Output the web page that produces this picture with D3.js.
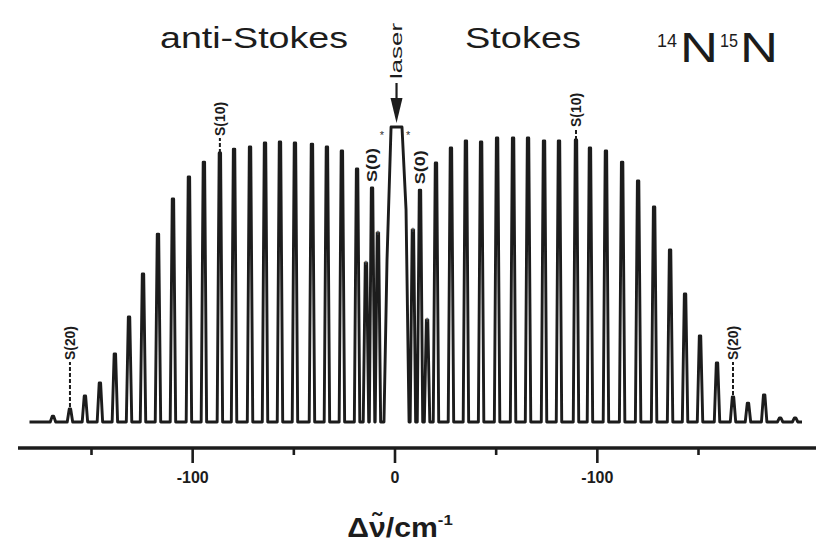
<!DOCTYPE html>
<html><head><meta charset="utf-8">
<script src="https://cdn.jsdelivr.net/npm/d3@7"></script>
<style>body{margin:0;background:#fff}svg{display:block}</style>
</head><body><svg id="c" width="816" height="543"></svg>
<script>
// ---- data (Raman shift in cm^-1, relative intensity with laser = 100) ----
const antiStokesShift = [-168.8,-160.4,-153.0,-145.6,-138.2,-131.2,-124.3,-116.9,-109.5,-101.6,-94.2,-86.3,-79.3,-71.4,-64.0,-56.6,-49.2,-40.8,-33.4,-26.0,-18.5,-11.1];
const antiStokesIntensity = [2.0,4.4,8.8,13.2,23.1,35.6,50.2,63.7,75.6,83.1,88.1,91.2,92.5,93.2,94.6,94.9,94.6,94.2,93.2,91.9,85.8,79.3];
const stokesShift = [12.6,20.5,27.9,35.3,42.8,50.7,58.6,66.0,73.9,81.3,89.7,96.6,104.5,112.5,120.4,128.3,136.2,143.6,151.0,159.4,167.3,174.7,182.7,190.6,198.0];
const stokesIntensity = [78.6,87.8,92.9,95.3,94.9,96.3,96.3,96.3,95.3,95.3,95.6,92.9,91.9,88.1,81.7,72.9,58.3,43.4,29.2,20.0,8.5,6.4,9.2,1.4,1.4];
const impurityShift = [-14.1,-8.2,9.1,16.1];
const impurityIntensity = [53.9,64.1,65.1,34.6];
const laserShift = [-5.2,-3.7,-1.7,3.7,5.7,7.2];
const laserIntensity = [0,55,100,100,72,0];
const branchLabels = ["S(20)","S(10)","S(0)","S(0)","S(10)","S(20)"];
const branchShift = [-160.4,-86.3,-11.1,12.6,89.7,167.3];
const branchIntensity = [4.4,91.2,79.3,78.6,95.6,8.5];
const starShift = [-6.2,6.7];
const tickValues = [-150,-100,-50,0,50,100,150];
const tickLabels = ["","-100","","0","","-100",""];
const spectrumRange = [-180.4,201.4];

// ---- layout ----
const svg = d3.select("#c");
const x = d3.scaleLinear().domain([-150,150]).range([91,698]);
const y = d3.scaleLinear().domain([0,100]).range([422,127]);
const axisY = 448;
const ink = "#1c1c1c";
const narrow = "'Liberation Sans Narrow','Liberation Sans',Arial,sans-serif";
const sans = "'Liberation Sans',Arial,Helvetica,sans-serif";

// spectrum path
const peaks = [];
antiStokesShift.forEach((s,i)=>peaks.push([s,antiStokesIntensity[i]]));
stokesShift.forEach((s,i)=>peaks.push([s,stokesIntensity[i]]));
impurityShift.forEach((s,i)=>peaks.push([s,impurityIntensity[i]]));
peaks.sort((a,b)=>a[0]-b[0]);
const hw = 1.35, tw = 0.35;
let pts = [[spectrumRange[0],0]];
let laserDone = false;
peaks.forEach(p=>{
  if(!laserDone && p[0] > laserShift[0]){
    laserShift.forEach((s,i)=>pts.push([s,laserIntensity[i]]));
    laserDone = true;
  }
  pts.push([p[0]-hw,0],[p[0]-tw,p[1]],[p[0]+tw,p[1]],[p[0]+hw,0]);
});
pts.push([spectrumRange[1],0]);
const line = d3.line().x(d=>x(d[0])).y(d=>y(d[1]));
svg.append("path").attr("d",line(pts)).attr("fill","none")
  .attr("stroke",ink).attr("stroke-width",2.9).attr("stroke-linejoin","round");

// axis
const axis = d3.axisBottom(x).tickValues(tickValues)
  .tickFormat((d,i)=>tickLabels[i]).tickSizeOuter(0).tickSize(15);
const ag = svg.append("g").attr("transform",`translate(0,${axisY})`).call(axis);
ag.select(".domain").remove();
ag.append("line").attr("x1",18).attr("x2",816).attr("y1",0).attr("y2",0)
  .attr("stroke",ink).attr("stroke-width",3.4);
ag.selectAll(".tick line").attr("stroke",ink).attr("stroke-width",2.6)
  .attr("y2",(d,i)=>tickLabels[i]? 15 : 7);
ag.selectAll(".tick text").attr("fill",ink).attr("y",24)
  .style("font-family",narrow).style("font-weight","bold").style("font-size","16px");

// axis title
const tg = svg.append("g").attr("transform","translate(400,537) scale(1.12,1)");
const t = tg.append("text").attr("text-anchor","middle")
  .style("font-family",narrow).style("font-weight","bold").style("font-size","27px").attr("fill",ink);
t.append("tspan").text("Δν̃/cm");
t.append("tspan").attr("dy",-12).style("font-size","15px").text("-1");

// branch labels
const labelGap = [2,15,4,4,11,2];
const labelLine = [45,0,0,0,0,33];
branchLabels.forEach((lab,i)=>{
  const px = x(branchShift[i]), top = y(branchIntensity[i]) - labelGap[i];
  const ll = labelLine[i];
  if(ll>0){
    svg.append("line").attr("x1",px).attr("x2",px).attr("y1",top).attr("y2",top-ll)
      .attr("stroke",ink).attr("stroke-width",2).attr("stroke-dasharray","4,2");
  }
  if(labelGap[i]>5){
    svg.append("line").attr("x1",px).attr("x2",px).attr("y1",top+labelGap[i]).attr("y2",top)
      .attr("stroke",ink).attr("stroke-width",2).attr("stroke-dasharray","4,2");
  }
  svg.append("text").attr("transform",`translate(${px+5},${top-ll-2}) rotate(-90)`)
    .attr("textLength",34).attr("lengthAdjust","spacingAndGlyphs")
    .style("font-family",narrow).style("font-weight","bold").style("font-size","14px")
    .attr("fill",ink).text(lab);
});

// impurity markers
impurityShift.forEach((s,i)=>{
  svg.append("text").attr("x",x(s)).attr("y",y(impurityIntensity[i])+3).attr("text-anchor","middle")
    .style("font-family",sans).style("font-size","9px").attr("fill","#555").text("+");
});
starShift.forEach(s=>{
  svg.append("text").attr("x",x(s)).attr("y",y(100)+12).attr("text-anchor","middle")
    .style("font-family",sans).style("font-size","11px").attr("fill","#333").text("*");
});

// laser arrow and label
const lx = x(1);
svg.append("line").attr("x1",lx).attr("x2",lx).attr("y1",83).attr("y2",102)
  .attr("stroke",ink).attr("stroke-width",2.2);
svg.append("path").attr("d",`M${lx-6},98 L${lx+6},98 L${lx},123 Z`).attr("fill",ink);
svg.append("text").attr("transform",`translate(${lx+5},79) rotate(-90)`)
  .attr("textLength",56).attr("lengthAdjust","spacingAndGlyphs")
  .style("font-family",sans).style("font-size","17px").attr("fill",ink).text("laser");

// titles
svg.append("text").attr("x",160).attr("y",48).attr("textLength",188).attr("lengthAdjust","spacingAndGlyphs")
  .style("font-family",sans).style("font-size","30px").attr("fill",ink).text("anti-Stokes");
svg.append("text").attr("x",465).attr("y",48).attr("textLength",116).attr("lengthAdjust","spacingAndGlyphs")
  .style("font-family",sans).style("font-size","30px").attr("fill",ink).text("Stokes");
const mol = [["14",657,47,18,20],["N",680,62,42,38],["15",720,47,18,18],["N",740,62,42,38]];
mol.forEach(m=>{
  svg.append("text").attr("x",m[1]).attr("y",m[2]).attr("textLength",m[4]).attr("lengthAdjust","spacingAndGlyphs")
    .style("font-family",sans).style("font-size",m[3]+"px").attr("fill",ink).text(m[0]);
});
</script>
</body></html>
